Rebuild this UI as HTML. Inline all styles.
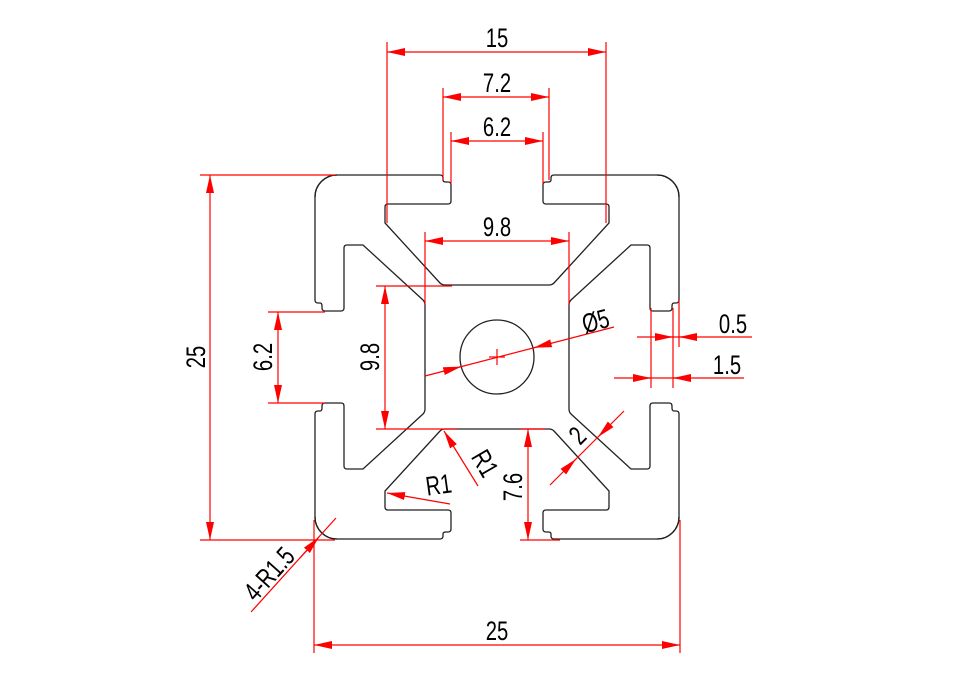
<!DOCTYPE html>
<html><head><meta charset="utf-8"><style>
html,body{margin:0;padding:0;background:#fff;}
svg{display:block;}
text{font-family:"Liberation Sans",sans-serif;font-size:27px;fill:#000;}
</style></head><body>
<svg width="962" height="685" viewBox="0 0 962 685" xmlns="http://www.w3.org/2000/svg">
<defs>
<marker id="a" markerUnits="userSpaceOnUse" markerWidth="20" markerHeight="10" refX="18" refY="4.5" orient="auto-start-reverse">
<path d="M0,0.5 L18,4.5 L0,8.5 Z" fill="#f00"/>
</marker>
<g id="side">
<path d="M -182,-160 A22 22 0 0 1 -160,-182 L -57,-182 Q -54,-182 -54,-179 L -54,-177 Q -54,-175 -51,-175 L -49,-175 Q -46,-175 -46,-172 L -46,-156 Q -46,-153 -49,-153 L -109,-153 Q -112,-153 -112,-150 L -112,-134 L -57,-74 Q -55,-72 -52,-72 L 52,-72 Q 55,-72 57,-74 L 112,-134 L 112,-150 Q 112,-153 109,-153 L 49,-153 Q 46,-153 46,-156 L 46,-172 Q 46,-175 49,-175 L 51,-175 Q 54,-175 54,-177 L 54,-179 Q 54,-182 57,-182 L 160,-182 A22 22 0 0 1 182,-160" fill="none" stroke="#222" stroke-width="1.3"/>
</g>
</defs>
<g transform="translate(497,357)">
<use href="#side"/>
<use href="#side" transform="rotate(90)"/>
<use href="#side" transform="rotate(180)"/>
<use href="#side" transform="rotate(270)"/>
<circle cx="0" cy="0" r="37" fill="none" stroke="#222" stroke-width="1.3"/>
</g>
<g stroke="#f00" stroke-width="1.2" fill="none">
<line x1="489" y1="357" x2="505" y2="357"/><line x1="497" y1="349" x2="497" y2="365"/>
<line x1="387" y1="42" x2="387" y2="223"/><line x1="606" y1="42" x2="606" y2="223"/>
<line x1="387" y1="52" x2="606" y2="52" marker-start="url(#a)" marker-end="url(#a)"/>
<line x1="443" y1="88" x2="443" y2="180"/><line x1="549" y1="88" x2="549" y2="180"/>
<line x1="443" y1="97" x2="549" y2="97" marker-start="url(#a)" marker-end="url(#a)"/>
<line x1="451" y1="132" x2="451" y2="184"/><line x1="543" y1="132" x2="543" y2="184"/>
<line x1="451" y1="141" x2="543" y2="141" marker-start="url(#a)" marker-end="url(#a)"/>
<line x1="425" y1="232" x2="425" y2="305"/><line x1="569" y1="232" x2="569" y2="305"/>
<line x1="425" y1="241" x2="569" y2="241" marker-start="url(#a)" marker-end="url(#a)"/>
<line x1="200" y1="175" x2="335" y2="175"/><line x1="200" y1="540" x2="335" y2="540"/>
<line x1="210" y1="175" x2="210" y2="540" marker-start="url(#a)" marker-end="url(#a)"/>
<line x1="268" y1="312" x2="325" y2="312"/><line x1="268" y1="403" x2="325" y2="403"/>
<line x1="278" y1="312" x2="278" y2="403" marker-start="url(#a)" marker-end="url(#a)"/>
<line x1="376" y1="286" x2="452" y2="286"/><line x1="376" y1="429" x2="457" y2="429"/>
<line x1="385" y1="286" x2="385" y2="429" marker-start="url(#a)" marker-end="url(#a)"/>
<line x1="425" y1="376" x2="614" y2="327"/>
<line x1="443" y1="371.3" x2="461.2" y2="366.6" marker-end="url(#a)"/>
<line x1="552" y1="343.1" x2="533.8" y2="347.8" marker-end="url(#a)"/>
<line x1="651" y1="308" x2="651" y2="388"/><line x1="673" y1="308" x2="673" y2="388"/><line x1="679" y1="300" x2="679" y2="347"/>
<line x1="637" y1="337" x2="752" y2="337"/>
<line x1="655" y1="337" x2="673" y2="337" marker-end="url(#a)"/>
<line x1="697" y1="337" x2="679" y2="337" marker-end="url(#a)"/>
<line x1="614" y1="378" x2="744" y2="378"/>
<line x1="633" y1="378" x2="651" y2="378" marker-end="url(#a)"/>
<line x1="691" y1="378" x2="673" y2="378" marker-end="url(#a)"/>
<line x1="550" y1="485" x2="624" y2="411"/>
<line x1="611" y1="424" x2="598" y2="437" marker-end="url(#a)"/>
<line x1="563" y1="472" x2="576" y2="459" marker-end="url(#a)"/>
<line x1="478" y1="486" x2="444" y2="431" marker-end="url(#a)"/>
<line x1="450" y1="504" x2="387" y2="493" marker-end="url(#a)"/>
<line x1="520" y1="429" x2="545" y2="429"/><line x1="520" y1="540" x2="560" y2="540"/>
<line x1="528" y1="429" x2="528" y2="540" marker-start="url(#a)" marker-end="url(#a)"/>
<line x1="251" y1="612" x2="336" y2="518"/>
<line x1="300" y1="558" x2="319" y2="537" marker-end="url(#a)"/>
<line x1="314" y1="520" x2="314" y2="653"/><line x1="680" y1="520" x2="680" y2="653"/>
<line x1="314" y1="645" x2="680" y2="645" marker-start="url(#a)" marker-end="url(#a)"/>
</g>
<g>
<text transform="translate(497,47) scale(0.75,1)" text-anchor="middle">15</text>
<text transform="translate(497,92) scale(0.75,1)" text-anchor="middle">7.2</text>
<text transform="translate(497,136) scale(0.75,1)" text-anchor="middle">6.2</text>
<text transform="translate(497,236) scale(0.75,1)" text-anchor="middle">9.8</text>
<text transform="translate(205,357) rotate(-90) scale(0.75,1)" text-anchor="middle">25</text>
<text transform="translate(272,357) rotate(-90) scale(0.75,1)" text-anchor="middle">6.2</text>
<text transform="translate(379,357) rotate(-90) scale(0.75,1)" text-anchor="middle">9.8</text>
<text transform="translate(598,330) rotate(-15) scale(0.75,1)" text-anchor="middle">Ø5</text>
<text transform="translate(733,333) scale(0.75,1)" text-anchor="middle">0.5</text>
<text transform="translate(727,374) scale(0.75,1)" text-anchor="middle">1.5</text>
<text transform="translate(584,442) rotate(-45) scale(0.75,1)" text-anchor="middle">2</text>
<text transform="translate(477,468) rotate(60) scale(0.75,1)" text-anchor="middle">R1</text>
<text transform="translate(440,494) rotate(-8) scale(0.75,1)" text-anchor="middle">R1</text>
<text transform="translate(522,487) rotate(-90) scale(0.75,1)" text-anchor="middle">7.6</text>
<text transform="translate(276,580) rotate(-48) scale(0.75,1)" text-anchor="middle">4-R1.5</text>
<text transform="translate(497,640) scale(0.75,1)" text-anchor="middle">25</text>
</g>
</svg>
</body></html>
